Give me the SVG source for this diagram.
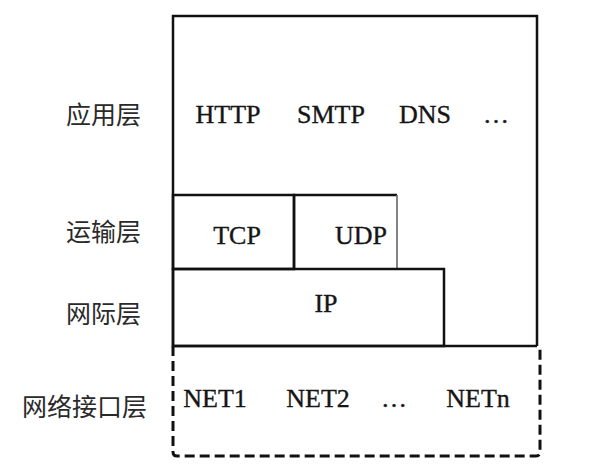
<svg xmlns="http://www.w3.org/2000/svg" width="608" height="475" viewBox="0 0 608 475">
<style>
.box{fill:none;stroke:#111;stroke-width:2.5}
.en{font-family:"Liberation Serif","Times New Roman",serif;font-size:26px;fill:#151515;stroke:#151515;stroke-width:0.35;text-anchor:middle}
.zh{font-family:"Noto Sans CJK SC",sans-serif;font-size:25px;fill:#2a2a2a;text-anchor:end}
</style>
<rect width="608" height="475" fill="#fff"/>
<g id="app">
<path class="box" d="M173,346 V16 H537 V346"/>
<text class="en" x="228" y="123">HTTP</text>
<text class="en" x="331" y="123">SMTP</text>
<text class="en" x="425" y="123">DNS</text>
<text class="en" x="496" y="123">…</text>
</g>
<g id="tcp">
<rect class="box" x="173" y="195" width="121" height="74"/>
<text class="en" x="237" y="244">TCP</text>
</g>
<g id="udp">
<path class="box" d="M294,269 V195 H397"/>
<path d="M397,195 V269" fill="none" stroke="#777" stroke-width="1.8"/>
<text class="en" x="361" y="244">UDP</text>
</g>
<g id="ip">
<rect class="box" x="173" y="269" width="271" height="77"/>
<text class="en" x="326" y="312">IP</text>
</g>
<g id="net">
<path d="M173,346 V452 Q173,456 177,456 H536 Q540,456 540,452 V346" fill="none" stroke="#111" stroke-width="3" stroke-dasharray="10,5"/>
<path class="box" d="M173,346 H537"/>
<text class="en" x="215" y="407">NET1</text>
<text class="en" x="318" y="407">NET2</text>
<text class="en" x="394" y="407">…</text>
<text class="en" x="478" y="407">NETn</text>
</g>
<g id="labels">
<text class="zh" x="141" y="124">应用层</text>
<text class="zh" x="141" y="241">运输层</text>
<text class="zh" x="141" y="323">网际层</text>
<text class="zh" x="147" y="416">网络接口层</text>
</g>
<g id="connectors"></g>
</svg>
